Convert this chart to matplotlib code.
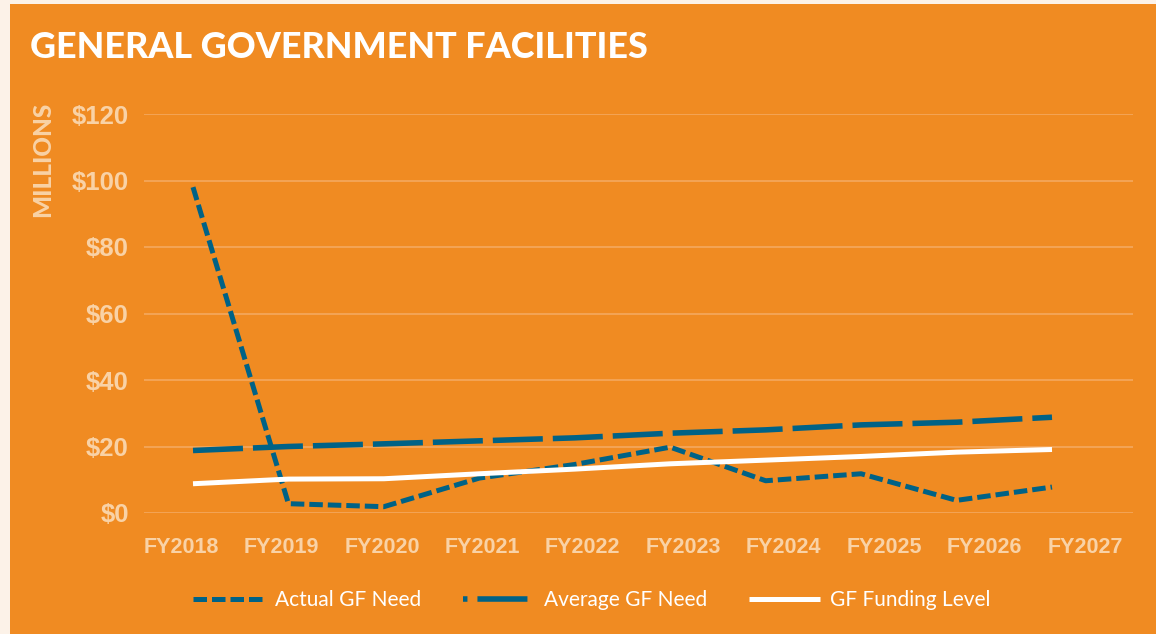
import matplotlib
matplotlib.use("Agg")
import matplotlib.pyplot as plt
from matplotlib.patches import Rectangle

years = ["FY2018", "FY2019", "FY2020", "FY2021", "FY2022",
         "FY2023", "FY2024", "FY2025", "FY2026", "FY2027"]
actual_need = [98.0, 2.8, 1.9, 10.5, 14.6, 19.8, 9.7, 11.8, 3.8, 7.8]
average_need = [18.8, 20.0, 20.8, 21.7, 22.6, 24.0, 25.0, 26.5, 27.3, 28.8]
funding_level = [8.8, 10.2, 10.3, 11.8, 13.2, 14.8, 15.9, 17.0, 18.3, 19.1]
y_ticks = [0, 20, 40, 60, 80, 100, 120]
y_tick_labels = ["$0", "$20", "$40", "$60", "$80", "$100", "$120"]

W, H = 1156, 634
ORANGE = "#F08B22"
CREAM = "#FCF2E8"
BLUE = "#006286"
PEACH = "#F9D2A6"
GRID = "#F4A95F"

fig = plt.figure(figsize=(W / 100, H / 100), dpi=100)
fig.patch.set_facecolor(CREAM)
fig.add_artist(Rectangle((10 / W, 0), 1 - 10 / W, 1 - 4 / H,
                         transform=fig.transFigure, facecolor=ORANGE,
                         edgecolor="none", zorder=0))

left, right, top, bottom = 144, 1133, 114, 513
rect = [left / W, (H - bottom) / H, (right - left) / W, (bottom - top) / H]

# label axis (category bands, labels spread wider than the plotted points)
lab_ax = fig.add_axes(rect)
lab_ax.set_facecolor("none")
for s in lab_ax.spines.values():
    s.set_visible(False)
lab_spacing = (1085 - 181) / 9
lab_ax.set_xlim(-(181 - left) / lab_spacing, 9 + (right - 1085) / lab_spacing)
lab_ax.set_xticks(range(len(years)))
lab_ax.set_xticklabels(years)
lab_ax.set_yticks([])
lab_ax.tick_params(axis="x", length=0, colors=PEACH, pad=17)
for lab in lab_ax.get_xticklabels():
    lab.set_fontfamily("Liberation Sans")
    lab.set_fontweight("bold")
    lab.set_fontsize(15.5)

ax = fig.add_axes(rect)
ax.set_facecolor("none")
for s in ax.spines.values():
    s.set_visible(False)

x = list(range(len(years)))
l1, = ax.plot(x, actual_need, color=BLUE, lw=3.6, linestyle=(0, (2.7, 1.0)),
              dash_capstyle="butt", clip_on=False, zorder=3,
              label="Actual GF Need")
l2, = ax.plot(x, average_need, color=BLUE, lw=4.0, linestyle=(0, (9, 1.8)),
              dash_capstyle="butt", clip_on=False, zorder=3, label="Average GF Need")
l3, = ax.plot(x, funding_level, color="white", lw=3.6, solid_capstyle="butt",
              clip_on=False, zorder=3, label="GF Funding Level")

spacing = (1052 - 193) / 9
ax.set_xlim(-(193 - left) / spacing, 9 + (right - 1052) / spacing)
ax.set_ylim(0, 120)
ax.set_yticks(y_ticks)
ax.set_yticklabels(y_tick_labels)
ax.set_xticks([])
ax.grid(axis="y", color=GRID, lw=1.2, zorder=1)
ax.tick_params(axis="both", length=0, colors=PEACH)
ax.tick_params(axis="y", pad=11)
for lab in ax.get_yticklabels():
    lab.set_fontfamily("Liberation Sans")
    lab.set_fontweight("bold")
    lab.set_fontsize(18.5)

fig.text(43 / W, 1 - 159 / H, "MILLIONS", rotation=90, ha="center", va="center",
         color=PEACH, fontsize=17.5, fontweight="black", fontfamily="Lato")

fig.text(30 / W, 1 - 47 / H, "GENERAL GOVERNMENT FACILITIES", ha="left", va="center",
         color="white", fontsize=25.8, fontweight="black", fontfamily="Lato")

leg = fig.legend(handles=[l1, l2, l3], loc="center", bbox_to_anchor=(592 / W, 1 - 600 / H),
                 ncol=3, frameon=False, handlelength=3.4, handletextpad=0.5,
                 columnspacing=2.0, prop={"family": "Lato", "size": 15, "weight": "normal"})
for t in leg.get_texts():
    t.set_color("white")
leg_lines = leg.get_lines()
leg_lines[1].set_linestyle((8.2, (9, 1.8)))

fig.savefig("out.png", dpi=100, facecolor=fig.get_facecolor())
